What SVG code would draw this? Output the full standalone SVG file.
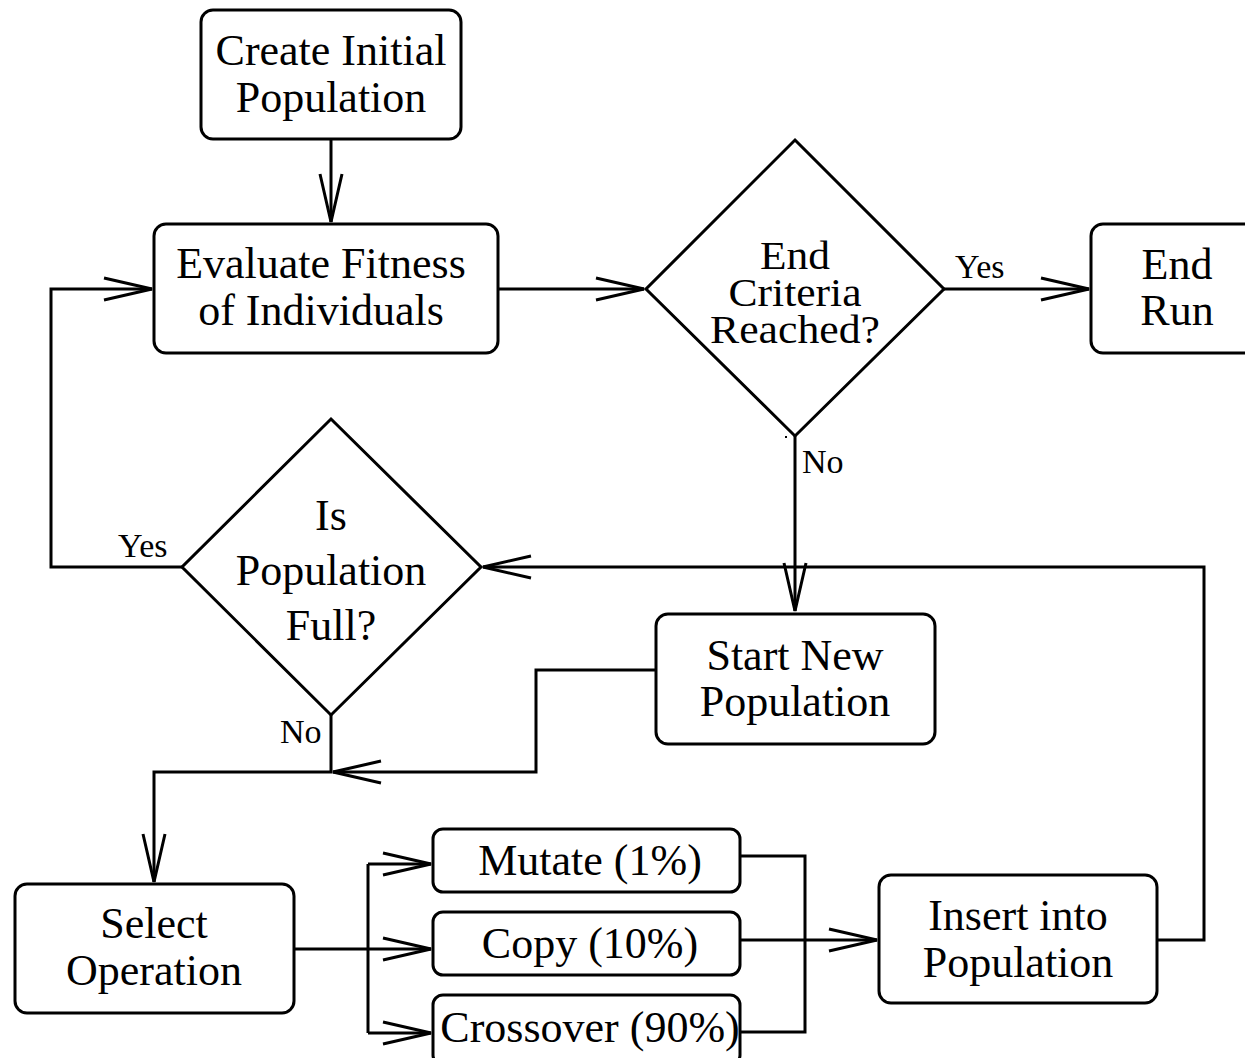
<svg xmlns="http://www.w3.org/2000/svg" width="1245" height="1058" viewBox="0 0 1245 1058">
<style>
  .box { fill: #fff; stroke: #000; stroke-width: 3; }
  .t { font-family: "Liberation Serif", "Times New Roman", serif; font-size: 44px; fill: #000; text-anchor: middle; }
  .tc { font-family: "Liberation Serif", "Times New Roman", serif; font-size: 40px; fill: #000; text-anchor: middle; }
  .lbl { font-family: "Liberation Serif", "Times New Roman", serif; font-size: 34px; fill: #000; }
  .c { fill: none; stroke: #000; stroke-width: 3; }
</style>
<defs>
  <marker id="arr" markerUnits="userSpaceOnUse" viewBox="-52 -14 56 28" refX="0" refY="0" markerWidth="56" markerHeight="28" orient="auto" overflow="visible">
    <path d="M-48,-11 L0,0 L-48,11" fill="none" stroke="#000" stroke-width="3"/>
  </marker>
</defs>
<rect width="1245" height="1058" fill="#fff"/>

<g id="connectors">
  <path class="c" d="M331,139 V222" marker-end="url(#arr)"/>
  <path class="c" d="M498,289 H644" marker-end="url(#arr)"/>
  <path class="c" d="M944,289 H1089" marker-end="url(#arr)"/>
  <path class="c" d="M795,436 V611" marker-end="url(#arr)"/>
  <path class="c" d="M1157,940 H1204 V567 H483" marker-end="url(#arr)"/>
  <path class="c" d="M182,567 H51 V289 H152" marker-end="url(#arr)"/>
  <path class="c" d="M331,715 V772 H154 V882" marker-end="url(#arr)"/>
  <path class="c" d="M656,670 H536 V772 H333" marker-end="url(#arr)"/>
  <path class="c" d="M294,949 H368"/>
  <path class="c" d="M368,864 V1033"/>
  <path class="c" d="M368,864 H431" marker-end="url(#arr)"/>
  <path class="c" d="M368,949 H431" marker-end="url(#arr)"/>
  <path class="c" d="M368,1033 H431" marker-end="url(#arr)"/>
  <path class="c" d="M740,856 H805 V1032 H740"/>
  <path class="c" d="M740,940 H877" marker-end="url(#arr)"/>
  <text class="lbl" x="955" y="278">Yes</text>
  <text class="lbl" x="802" y="473">No</text>
  <text class="lbl" x="118" y="557">Yes</text>
  <text class="lbl" x="280" y="743">No</text>
  <rect x="785" y="436" width="2" height="2" fill="#000"/>
</g>

<g id="create">
  <rect class="box" x="201" y="10" width="260" height="129" rx="12"/>
  <text class="t" x="331" y="65">Create Initial</text>
  <text class="t" x="331" y="112">Population</text>
</g>
<g id="evaluate">
  <rect class="box" x="154" y="224" width="344" height="129" rx="12"/>
  <text class="t" x="321" y="278">Evaluate Fitness</text>
  <text class="t" x="321" y="325">of Individuals</text>
</g>
<g id="end-criteria">
  <polygon class="box" points="795,140 944,289 795,436 646,289"/>
  <text class="tc" x="795" y="269" textLength="70" lengthAdjust="spacingAndGlyphs">End</text>
  <text class="tc" x="795" y="306" textLength="133" lengthAdjust="spacingAndGlyphs">Criteria</text>
  <text class="tc" x="795" y="343" textLength="170" lengthAdjust="spacingAndGlyphs">Reached?</text>
</g>
<g id="end-run">
  <rect class="box" x="1091" y="224" width="175" height="129" rx="12"/>
  <text class="t" x="1177" y="279">End</text>
  <text class="t" x="1177" y="325">Run</text>
</g>
<g id="is-full">
  <polygon class="box" points="331,419 481,567 331,715 182,567"/>
  <text class="t" x="331" y="530">Is</text>
  <text class="t" x="331" y="585">Population</text>
  <text class="t" x="331" y="640">Full?</text>
</g>
<g id="start-new">
  <rect class="box" x="656" y="614" width="279" height="130" rx="12"/>
  <text class="t" x="795" y="670">Start New</text>
  <text class="t" x="795" y="716">Population</text>
</g>
<g id="select">
  <rect class="box" x="15" y="884" width="279" height="129" rx="12"/>
  <text class="t" x="154" y="938">Select</text>
  <text class="t" x="154" y="985">Operation</text>
</g>
<g id="mutate">
  <rect class="box" x="433" y="829" width="307" height="63" rx="10"/>
  <text class="t" x="590" y="875">Mutate (1%)</text>
</g>
<g id="copy">
  <rect class="box" x="433" y="912" width="307" height="63" rx="10"/>
  <text class="t" x="590" y="958">Copy (10%)</text>
</g>
<g id="crossover">
  <rect class="box" x="433" y="995" width="307" height="70" rx="10"/>
  <text class="t" x="590" y="1042">Crossover (90%)</text>
</g>
<g id="insert">
  <rect class="box" x="879" y="875" width="278" height="128" rx="12"/>
  <text class="t" x="1018" y="930">Insert into</text>
  <text class="t" x="1018" y="977">Population</text>
</g>
</svg>
